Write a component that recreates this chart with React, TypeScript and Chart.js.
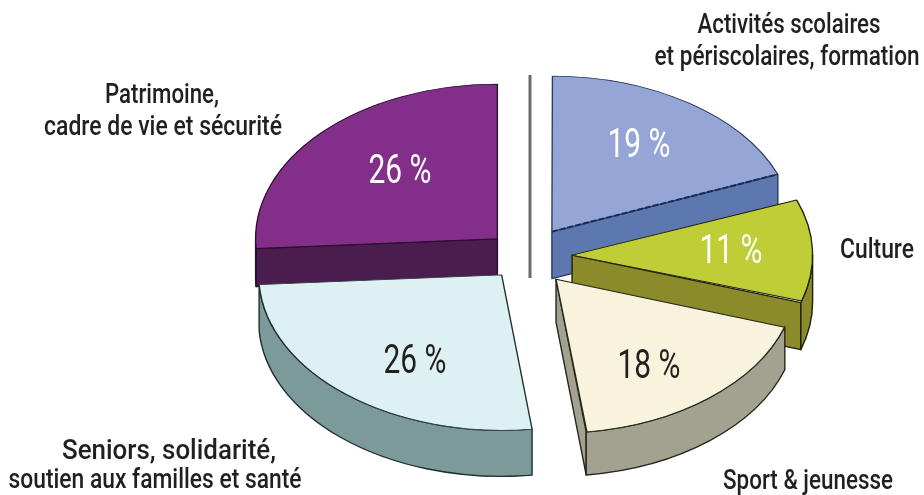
import React, { useEffect, useRef } from "react";
import { Chart, registerables } from "chart.js";

Chart.register(...registerables);

const categories = [
  "Activités scolaires et périscolaires, formation",
  "Culture",
  "Sport & jeunesse",
  "Seniors, solidarité, soutien aux familles et santé",
  "Patrimoine, cadre de vie et sécurité",
];
const values = [19, 11, 18, 26, 26];

const topColors = ["#95a6d6", "#bfce36", "#f8f3dc", "#ddf0f2", "#832f8a"];
const wallColors = ["#5d78ae", "#8b8b2b", "#a3a290", "#7d9a9b", "#4b1c4e"];
const edgeColors = ["#2c3a5c", "#20200c", "#26261c", "#1e3030", "#2a0e2e"];
const explode = [135, 135, 138, 112, 115];
const radiusFactor = [1.0, 0.99, 0.99, 1.0, 0.995];
const depths = [47, 47, 43, 46, 38];

const valueColors = ["#ffffff", "#ffffff", "#231f20", "#231f20", "#ffffff"];
const valueAnchors = [[639, 147], [731, 253], [649, 368], [415, 363], [400, 173]];
const valueWidth = 63;
const labelLines = [
  ["Activités scolaires", 789, 26, 183],
  ["et périscolaires, formation", 787, 58, 265],
  ["Patrimoine,", 162, 96, 114],
  ["cadre de vie et sécurité", 163, 128, 238],
  ["Culture", 877, 251, 74],
  ["Seniors, solidarité,", 169, 452, 214],
  ["soutien aux familles et santé", 155, 481, 293],
  ["Sport & jeunesse", 808, 482, 170],
] as const;

const FONT = 'Roboto, "Liberation Sans", sans-serif';
const CENTER_X = 526;
const CENTER_Y = 256;
const SCREEN_RADIUS = 243;
const TILT = 0.64;

function geom(el: any, sx: number) {
  const c = el.endAngle - el.startAngle;
  const mid = (el.startAngle + el.endAngle) / 2;
  const off = (el.options.offset || 0) / 4;
  const fix = 1 - Math.sin(Math.min(Math.PI, c));
  const r = el.outerRadius + off * fix;
  return {
    x: CENTER_X + Math.cos(mid) * off * sx,
    y: CENTER_Y + Math.sin(mid) * off * sx * TILT,
    r: r * sx,
    s: el.startAngle,
    e: el.endAngle,
  };
}

function scaleOf(chart: any) {
  return SCREEN_RADIUS / chart.getDatasetMeta(0).controller.outerRadius;
}

const pie3d = {
  id: "pie3d",
  afterDatasetsUpdate(chart: any) {
    const meta = chart.getDatasetMeta(0);
    const base = meta.controller.outerRadius;
    meta.data.forEach((el: any, i: number) => {
      const c = el.endAngle - el.startAngle;
      const fix = 1 - Math.sin(Math.min(Math.PI, c));
      el.outerRadius = base * radiusFactor[i] - (explode[i] / 4) * fix;
    });
  },
  beforeDatasetsDraw(chart: any) {
    const ctx: CanvasRenderingContext2D = chart.ctx;
    const sx = scaleOf(chart);
    const meta = chart.getDatasetMeta(0);
    const cx = meta.data[0].x;
    const cy = meta.data[0].y;

    ctx.save();
    ctx.strokeStyle = "#6b6b6b";
    ctx.lineWidth = 3;
    ctx.beginPath();
    ctx.moveTo(530, 75);
    ctx.lineTo(530, 278);
    ctx.stroke();
    ctx.restore();

    const order = [4, 0, 1, 3, 2];
    for (const i of order) {
      const g = geom(meta.data[i], sx);
      const dz = depths[i];
      const px = (a: number) => g.x + g.r * Math.cos(a);
      const py = (a: number) => g.y + g.r * TILT * Math.sin(a);
      ctx.save();
      ctx.fillStyle = wallColors[i];
      ctx.strokeStyle = edgeColors[i];
      ctx.lineWidth = 1.4;
      ctx.lineJoin = "round";
      const radial = (a: number) => {
        ctx.beginPath();
        ctx.moveTo(g.x, g.y);
        ctx.lineTo(px(a), py(a));
        ctx.lineTo(px(a), py(a) + dz);
        ctx.lineTo(g.x, g.y + dz);
        ctx.closePath();
        ctx.fill();
        ctx.stroke();
      };
      if (Math.cos(g.s) < -1e-3) radial(g.s);
      if (Math.cos(g.e) > 1e-3) radial(g.e);
      const a0 = Math.max(g.s, 0);
      const a1 = Math.min(g.e, Math.PI);
      if (a1 > a0) {
        ctx.beginPath();
        ctx.ellipse(g.x, g.y, g.r, g.r * TILT, 0, a0, a1);
        ctx.lineTo(px(a1), py(a1) + dz);
        ctx.ellipse(g.x, g.y + dz, g.r, g.r * TILT, 0, a1, a0, true);
        ctx.closePath();
        ctx.fill();
        ctx.stroke();
      }
      ctx.restore();
    }

    ctx.save();
    ctx.translate(CENTER_X, CENTER_Y);
    ctx.scale(sx, sx * TILT);
    ctx.translate(-cx, -cy);
  },
  afterDatasetsDraw(chart: any) {
    const ctx: CanvasRenderingContext2D = chart.ctx;
    ctx.restore();
    const sx = scaleOf(chart);
    const meta = chart.getDatasetMeta(0);

    const g = geom(meta.data[0], sx);
    ctx.save();
    ctx.strokeStyle = "#1c2a55";
    ctx.lineWidth = 2;
    ctx.setLineDash([6, 2]);
    ctx.beginPath();
    ctx.moveTo(g.x, g.y);
    ctx.lineTo(g.x + g.r * Math.cos(g.e), g.y + g.r * TILT * Math.sin(g.e));
    ctx.stroke();
    ctx.restore();

    ctx.save();
    ctx.textAlign = "center";
    ctx.textBaseline = "middle";
    ctx.fillStyle = "#231f20";
    ctx.font = `500 27px ${FONT}`;
    for (const [t, x, y, w] of labelLines) ctx.fillText(t, x, y, w);
    ctx.font = `400 40px ${FONT}`;
    values.forEach((v, i) => {
      ctx.fillStyle = valueColors[i];
      ctx.fillText(`${v} %`, valueAnchors[i][0], valueAnchors[i][1], valueWidth);
    });
    ctx.restore();
  },
};

export default function App() {
  const ref = useRef<HTMLCanvasElement>(null);
  useEffect(() => {
    const chart = new Chart(ref.current as HTMLCanvasElement, {
      type: "pie",
      data: {
        labels: categories,
        datasets: [
          {
            data: values,
            backgroundColor: topColors,
            borderColor: edgeColors,
            borderWidth: 1,
            offset: explode,
            clip: false,
          } as any,
        ],
      },
      options: {
        responsive: false,
        animation: false,
        events: [],
        layout: { padding: 0 },
        plugins: { legend: { display: false }, tooltip: { enabled: false } },
      },
      plugins: [pie3d],
    });
    return () => chart.destroy();
  }, []);
  return (
    <div style={{ position: "absolute", left: 0, top: 0, width: 924, height: 495, background: "#fff" }}>
      <canvas ref={ref} width={924} height={495} style={{ display: "block" }} />
    </div>
  );
}
